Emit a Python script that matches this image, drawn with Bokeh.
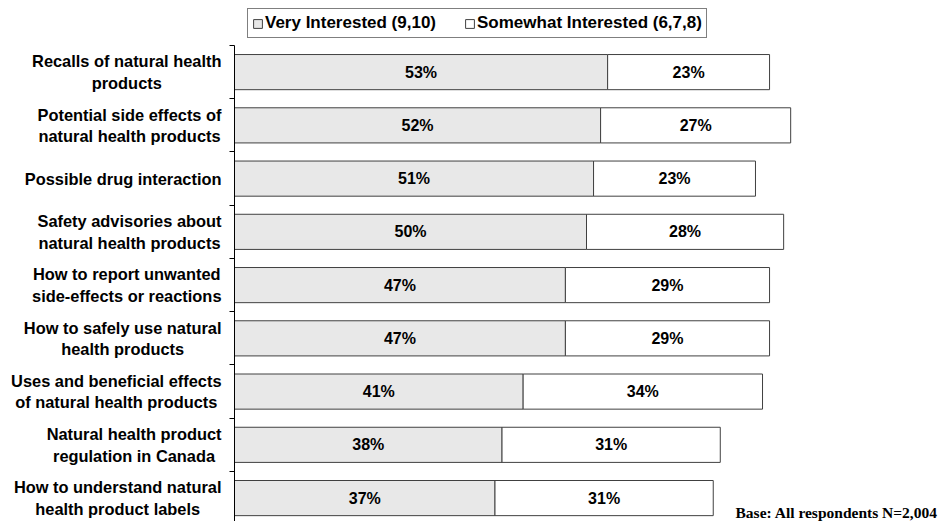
from bokeh.plotting import figure
from bokeh.layouts import row
from bokeh.models import ColumnDataSource, Range1d, FixedTicker, Legend, LegendItem, Label
from bokeh.embed import file_html
from bokeh.resources import INLINE
from bokeh.core.properties import value

# Survey topics, top to bottom
topics = [
    "Recalls of natural health\nproducts",
    "Potential side effects of\nnatural health products",
    "Possible drug interaction",
    "Safety advisories about\nnatural health products",
    "How to report unwanted\nside-effects or reactions",
    "How to safely use natural\nhealth products",
    "Uses and beneficial effects\nof natural health products",
    "Natural health product\nregulation in Canada",
    "How to understand natural\nhealth product labels",
]
very_interested = [53, 52, 51, 50, 47, 47, 41, 38, 37]
somewhat_interested = [23, 27, 23, 28, 29, 29, 34, 31, 31]
series_names = ["Very Interested (9,10)", "Somewhat Interested (6,7,8)"]
base_note = "Base: All respondents N=2,004"

FONT = "Liberation Sans"
n = len(topics)
centers = [i + 0.5 for i in range(n)]
totals = [v + s for v, s in zip(very_interested, somewhat_interested)]

src = ColumnDataSource(dict(
    y=centers,
    very=very_interested,
    total=totals,
    very_mid=[v / 2 for v in very_interested],
    some_mid=[v + s / 2 for v, s in zip(very_interested, somewhat_interested)],
    very_txt=[f"{v}%" for v in very_interested],
    some_txt=[f"{s}%" for s in somewhat_interested],
))

# shared vertical scale; the strip above category 0 holds the legend
y_range = Range1d(8.94, -0.845)

# --- category names (left panel) ---
names = figure(
    width=228, height=521, x_range=Range1d(0, 228), y_range=y_range,
    x_axis_type=None, y_axis_type=None, title_location=None,
    output_backend="svg", toolbar_location=None, min_border=0,
)
names.outline_line_color = None
for c, t in zip(centers, topics):
    names.add_layout(Label(
        x=221, y=c, text=t,
        anchor="center_right", text_align="center", text_baseline="middle",
        text_font=FONT, text_font_style="bold", text_font_size="16.4px",
        text_color="black", text_line_height=1.2,
    ))

# --- stacked bars ---
p = figure(
    width=712, height=521,
    x_range=Range1d(0, 100.28), y_range=y_range,
    x_axis_type=None, title_location=None,
    output_backend="svg", toolbar_location=None,
    min_border_left=6, min_border_top=0, min_border_bottom=0, min_border_right=0,
)
p.outline_line_color = None
p.ygrid.visible = False

bar_h = 0.66
r_very = p.hbar(y="y", left=0, right="very", height=bar_h, source=src,
                fill_color="#e8e8e8", line_color="#404040", line_width=1)
r_some = p.hbar(y="y", left="very", right="total", height=bar_h, source=src,
                fill_color="white", line_color="#404040", line_width=1)

for xcol, tcol in (("very_mid", "very_txt"), ("some_mid", "some_txt")):
    p.text(x=xcol, y="y", text=tcol, source=src,
           text_align="center", text_baseline="middle",
           text_font=value(FONT), text_font_style="bold",
           text_font_size="16px", text_color="black")

# vertical axis: a line with short outward ticks between the categories
ax = p.yaxis[0]
ax.bounds = (0, n)
ax.ticker = FixedTicker(ticks=[], minor_ticks=list(range(n + 1)))
ax.major_tick_line_color = None
ax.major_tick_out = 0
ax.major_label_standoff = 0
ax.minor_tick_in = 0
ax.minor_tick_out = 5
ax.minor_tick_line_color = "black"
ax.axis_line_color = "black"

legend = Legend(
    items=[LegendItem(label=series_names[0], renderers=[r_very]),
           LegendItem(label=series_names[1], renderers=[r_some])],
    orientation="horizontal", location=(13, 483), margin=0,
    padding=4, spacing=28, glyph_width=11, glyph_height=11, label_standoff=2,
    border_line_color="black", border_line_width=1,
    background_fill_color="white", background_fill_alpha=1,
    label_text_font=FONT, label_text_font_style="bold",
    label_text_font_size="17px", label_text_color="black",
)
p.add_layout(legend, "center")

p.add_layout(Label(
    x=99.9, y=8.77, text=base_note,
    text_align="right", text_baseline="middle",
    text_font="Liberation Serif", text_font_style="bold",
    text_font_size="15.5px", text_color="black",
))

layout = row(names, p)
open("out.html", "w").write(file_html(layout, INLINE))
